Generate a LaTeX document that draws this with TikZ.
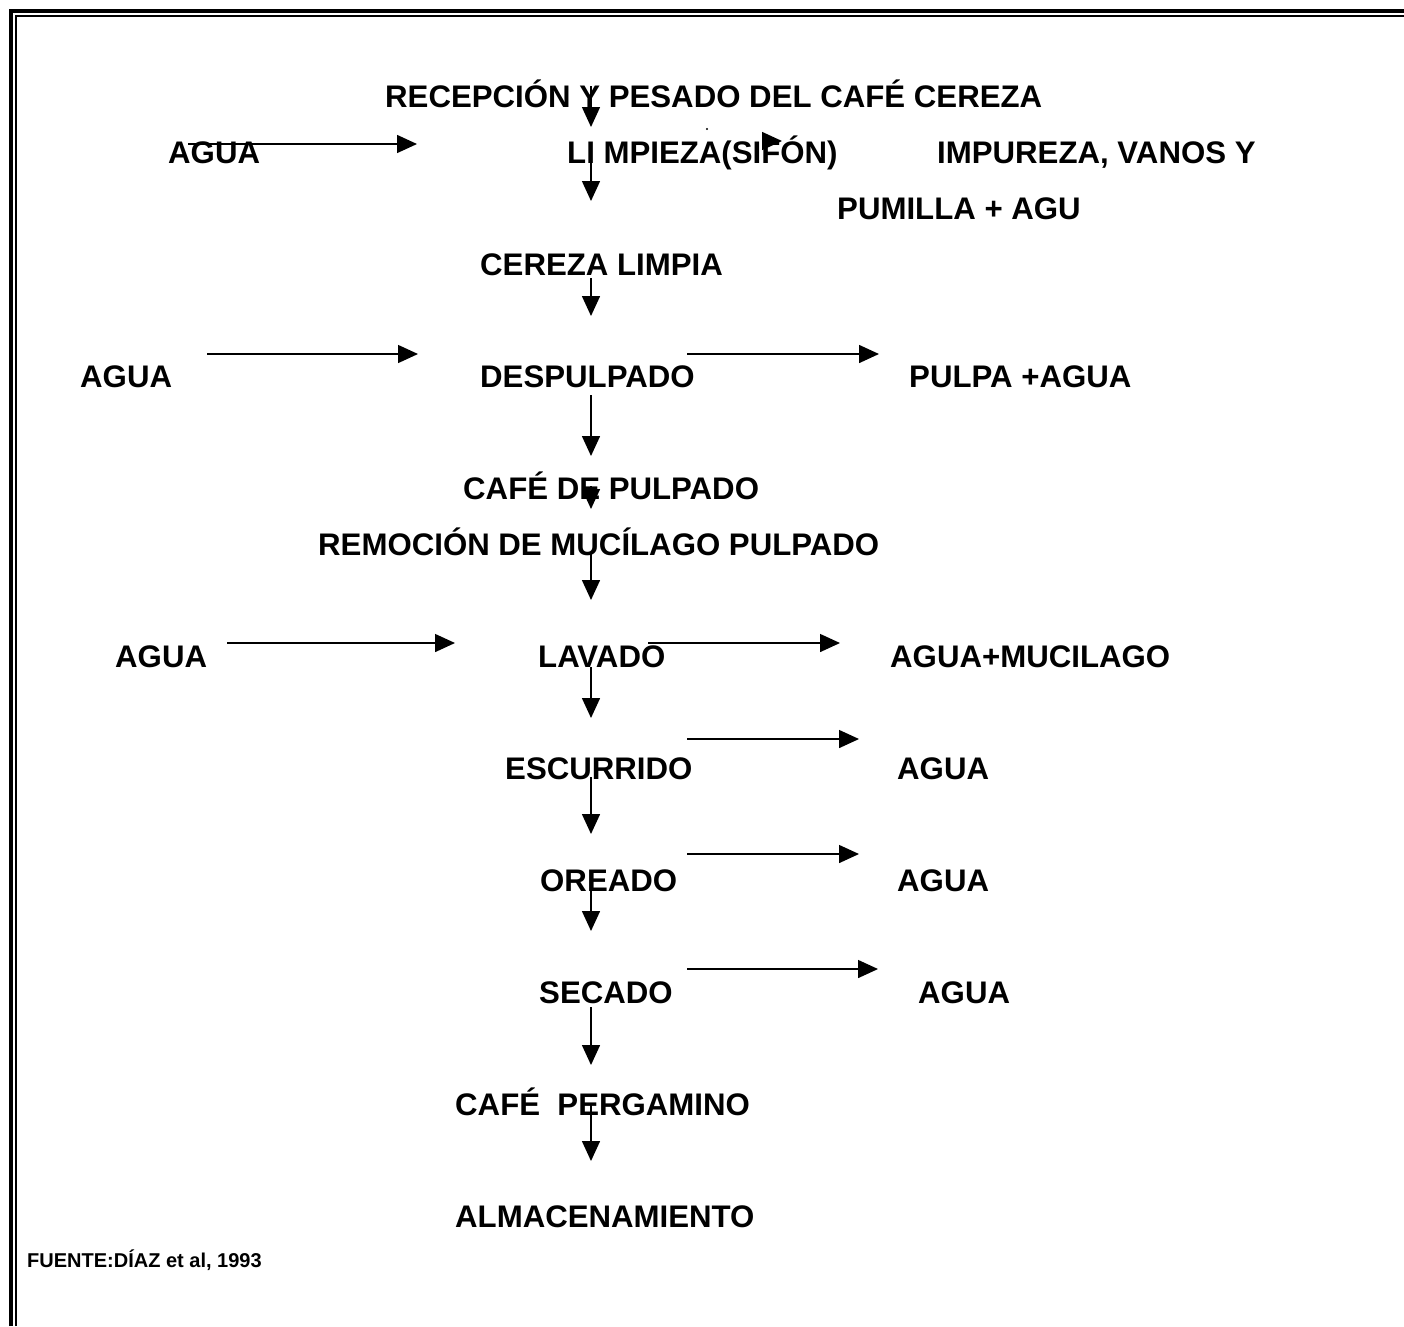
\documentclass[tikz,border=0pt]{standalone}
\usepackage{fontspec}
\setmainfont{Liberation Sans}
\usetikzlibrary{arrows.meta}

\tikzset{
  paso/.style={anchor=base west,inner sep=0pt,font=\bfseries\fontsize{31.2}{31.2}\selectfont},
  fuente/.style={anchor=base west,inner sep=0pt,font=\bfseries\fontsize{20}{20}\selectfont},
  flecha/.style={line width=1.5pt,-{Triangle[length=20pt,width=18pt]}}
}

\begin{document}
\begin{tikzpicture}[x=1pt,y=-1pt,every node/.style={black}]
	\useasboundingbox (0,0) rectangle (1404,1326);
	\draw[line width=4pt] (10.5,1326) -- (10.5,10.5) -- (1404,10.5);
	\draw[line width=2pt] (15.5,1326) -- (15.5,15.5) -- (1404,15.5);

	\node[paso] (R) at (385,107) {RECEPCIÓN Y PESADO DEL CAFÉ CEREZA};
	\node[paso] (A1) at (168,163) {AGUA};
	\node[paso] (L) at (567,163) {LI MPIEZA(SIFÓN)};
	\node[paso] (I) at (937,163) {IMPUREZA, VANOS Y};
	\node[paso] (I2) at (837,219) {PUMILLA + AGU};
	\node[paso] (CL) at (480,275) {CEREZA LIMPIA};
	\node[paso] (A2) at (80,387) {AGUA};
	\node[paso] (D) at (480,387) {DESPULPADO};
	\node[paso] (PA) at (909,387) {PULPA +AGUA};
	\node[paso] (CD) at (463,499) {CAFÉ DE PULPADO};
	\node[paso] (RM) at (318,555) {REMOCIÓN DE MUCÍLAGO PULPADO};
	\node[paso] (A3) at (115,667) {AGUA};
	\node[paso] (LV) at (538,667) {LAVADO};
	\node[paso] (AM) at (890,667) {AGUA+MUCILAGO};
	\node[paso] (E) at (505,779) {ESCURRIDO};
	\node[paso] (A4) at (897,779) {AGUA};
	\node[paso] (O) at (540,891) {OREADO};
	\node[paso] (A5) at (897,891) {AGUA};
	\node[paso] (S) at (539,1003) {SECADO};
	\node[paso] (A6) at (918,1003) {AGUA};
	\node[paso] (CP) at (455,1115) {CAFÉ\ \ PERGAMINO};
	\node[paso] (AL) at (455,1227) {ALMACENAMIENTO};
	\node[fuente] (F) at (27,1267) {FUENTE:DÍAZ et al, 1993};

	\fill (707,129) circle (1.2);

	\foreach \n/\ya/\yb in {1/86/127,2/163/201,3/278/316,4/395/456,5/486/509,6/553/600,
		7/667/718,8/777/834,9/890/931,10/1007/1065,11/1105/1161}
		\draw[flecha] (591,\ya) coordinate (V\n) -- (591,\yb) coordinate (W\n);

	\foreach \n/\xa/\xb/\y in {1/188/417/144,2/762/782/141,3/207/418/354,4/687/879/354,
		5/227/455/643,6/648/840/643,7/687/859/739,8/687/859/854,9/687/878/969}
		\draw[flecha] (\xa,\y) coordinate (H\n) -- (\xb,\y) coordinate (K\n);
\end{tikzpicture}
\end{document}
